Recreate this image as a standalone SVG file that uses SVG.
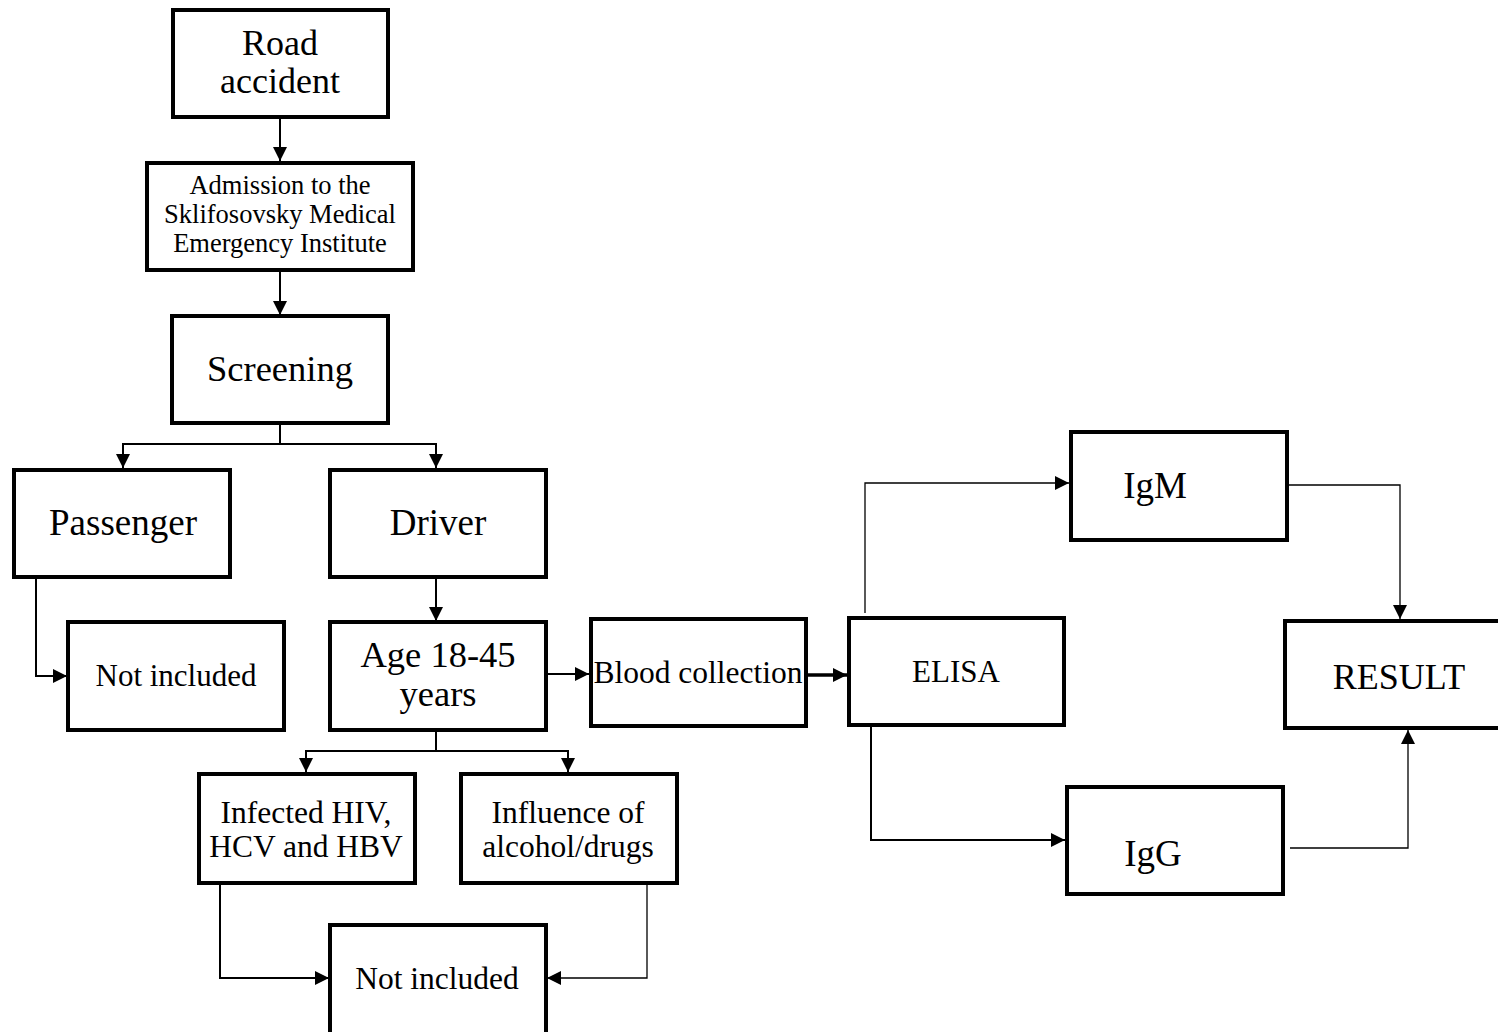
<svg xmlns="http://www.w3.org/2000/svg" width="1498" height="1032" viewBox="0 0 1498 1032">
<defs>
<style>
.box{fill:#fff;stroke:#000;stroke-width:4}
.t{font-family:"Liberation Serif","Times New Roman",serif;fill:#000;text-anchor:middle}
.c{fill:none;stroke:#000;stroke-width:2}
.thin{fill:none;stroke:#000;stroke-width:1.3}
</style>
<marker id="ah" viewBox="0 0 10 10" refX="10" refY="5" markerWidth="14" markerHeight="14" markerUnits="userSpaceOnUse" orient="auto">
<path d="M0,0 L10,5 L0,10 z" fill="#000"/>
</marker>
</defs>
<rect width="1498" height="1032" fill="#fff"/>
<g id="connectors">
<path class="c" d="M280,118 V161" marker-end="url(#ah)"/>
<path class="c" d="M280,270 V315" marker-end="url(#ah)"/>
<path class="c" d="M280,423 V444 H123 V468" marker-end="url(#ah)"/>
<path class="c" d="M280,444 H436 V468" marker-end="url(#ah)"/>
<path class="c" d="M36,577 V676 H67" marker-end="url(#ah)"/>
<path class="c" d="M436,577 V621" marker-end="url(#ah)"/>
<path class="c" d="M546,674 H589" marker-end="url(#ah)"/>
<path class="c" d="M806,675 H847" style="stroke-width:3.5" marker-end="url(#ah)"/>
<path class="thin" d="M865,613 V483 H1069" marker-end="url(#ah)"/>
<path class="thin" d="M1287,485 H1400 V619" marker-end="url(#ah)"/>
<path class="c" d="M871,726 V840 H1065" marker-end="url(#ah)"/>
<path class="thin" d="M1290,848 H1408 V730" marker-end="url(#ah)"/>
<path class="c" d="M436,730 V751 H306 V772" marker-end="url(#ah)"/>
<path class="c" d="M436,751 H568 V772" marker-end="url(#ah)"/>
<path class="c" d="M220,883 V978 H329" marker-end="url(#ah)"/>
<path class="thin" d="M647,883 V978 H547" marker-end="url(#ah)"/>
</g>
<g id="road-accident"><rect class="box" x="173" y="10" width="215" height="107"/><text class="t" x="280" y="55" font-size="36">Road</text><text class="t" x="280" y="93" font-size="36">accident</text></g>
<g id="admission"><rect class="box" x="147" y="163" width="266" height="107"/><text class="t" x="280" y="194" font-size="26.5">Admission to the</text><text class="t" x="280" y="223" font-size="26.5">Sklifosovsky Medical</text><text class="t" x="280" y="252" font-size="26.5">Emergency Institute</text></g>
<g id="screening"><rect class="box" x="172" y="316" width="216" height="107"/><text class="t" x="280" y="381" font-size="36.5">Screening</text></g>
<g id="passenger"><rect class="box" x="14" y="470" width="216" height="107"/><text class="t" x="123" y="535" font-size="37">Passenger</text></g>
<g id="driver"><rect class="box" x="330" y="470" width="216" height="107"/><text class="t" x="438" y="535" font-size="37">Driver</text></g>
<g id="not-included-1"><rect class="box" x="68" y="622" width="216" height="108"/><text class="t" x="176" y="686" font-size="31">Not included</text></g>
<g id="age"><rect class="box" x="330" y="622" width="216" height="108"/><text class="t" x="438" y="667" font-size="36.5">Age 18-45</text><text class="t" x="438" y="706" font-size="36.5">years</text></g>
<g id="blood"><rect class="box" x="591" y="619" width="215" height="107"/><text class="t" x="698" y="683" font-size="31.5">Blood collection</text></g>
<g id="elisa"><rect class="box" x="849" y="618" width="215" height="107"/><text class="t" x="956" y="682" font-size="31">ELISA</text></g>
<g id="igm"><rect class="box" x="1071" y="432" width="216" height="108"/><text class="t" x="1155" y="498" font-size="37">IgM</text></g>
<g id="igg"><rect class="box" x="1067" y="787" width="216" height="107"/><text class="t" x="1153" y="866" font-size="37">IgG</text></g>
<g id="result"><rect class="box" x="1285" y="621" width="230" height="107"/><text class="t" x="1399" y="689" font-size="36">RESULT</text></g>
<g id="infected"><rect class="box" x="199" y="774" width="216" height="109"/><text class="t" x="306" y="823" font-size="31.5">Infected HIV,</text><text class="t" x="306" y="857" font-size="31.5">HCV and HBV</text></g>
<g id="influence"><rect class="box" x="461" y="774" width="216" height="109"/><text class="t" x="568" y="823" font-size="31.5">Influence of</text><text class="t" x="568" y="857" font-size="31.5">alcohol/drugs</text></g>
<g id="not-included-2"><rect class="box" x="330" y="925" width="216" height="110"/><text class="t" x="437" y="989" font-size="31.5">Not included</text></g>
</svg>
